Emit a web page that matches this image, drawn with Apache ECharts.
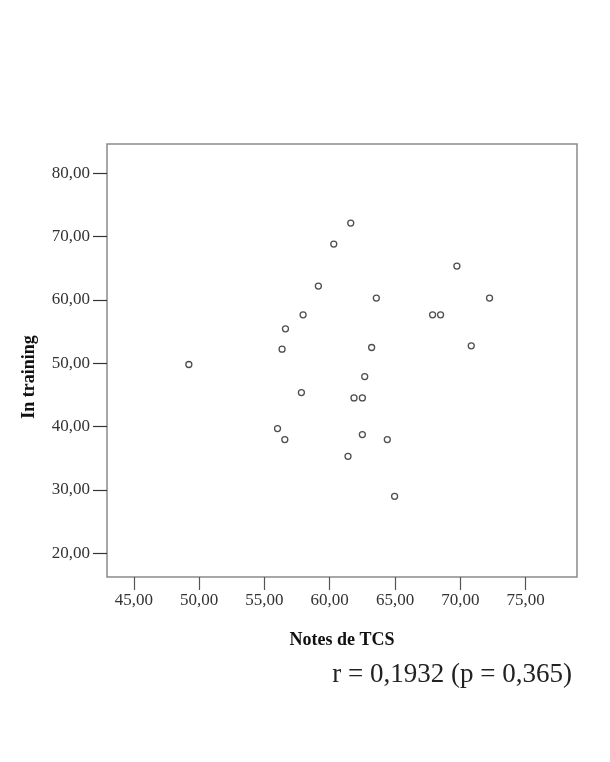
<!DOCTYPE html>
<html>
<head>
<meta charset="utf-8">
<script src="https://cdn.jsdelivr.net/npm/echarts@6/dist/echarts.min.js"></script>
<style>
    html, body { margin: 0; padding: 0; background: #fff; }
    #chart { width: 610px; height: 762px; }
</style>
</head>
<body>
<div id="chart"></div>
<script>
// Notes de TCS (x) / In training (y)
const tcsNotes = [49.21, 61.61, 60.31, 69.74, 59.13, 63.57, 72.24, 57.96, 67.88, 68.49, 56.61, 56.35,
    63.21, 70.84, 62.68, 57.83, 61.86, 62.50, 56.00, 56.56, 62.50, 64.41, 61.40, 64.97]
const inTraining = [49.81, 72.15, 68.83, 65.35, 62.19, 60.30, 60.30, 57.66, 57.66, 57.66, 55.45, 52.23,
    52.50, 52.76, 47.91, 45.38, 44.54, 44.54, 39.69, 37.96, 38.75, 37.96, 35.32, 29.00]

const xTicks = [45, 50, 55, 60, 65, 70, 75]
const yTicks = [20, 30, 40, 50, 60, 70, 80]

const fmt = v => v.toFixed(2).replace('.', ',')
const serif = '"Liberation Serif", "DejaVu Serif", serif'

onload = () => {
    let myChart = echarts.init(document.getElementById('chart'))
    let data = []
    tcsNotes.forEach((x, i) => {
        data.push([x, inTraining[i]])
    })

    let option = {
        backgroundColor: '#fff',
        animation: false,
        grid: {
            left: 107,
            top: 144,
            width: 470,
            height: 433,
            show: true,
            borderColor: '#8a8a8a',
            borderWidth: 1.5,
            containLabel: false
        },
        xAxis: {
            type: 'value',
            min: 42.94,
            max: 78.94,
            splitLine: { show: false },
            axisLine: { show: false },
            axisTick: {
                show: true,
                customValues: xTicks,
                length: 13,
                lineStyle: { color: '#555', width: 1.2 }
            },
            axisLabel: {
                customValues: xTicks,
                formatter: fmt,
                margin: 15,
                fontFamily: serif,
                fontSize: 17,
                color: '#333'
            },
            name: 'Notes de TCS',
            nameLocation: 'middle',
            nameGap: 54,
            nameTextStyle: {
                fontFamily: serif,
                fontSize: 18,
                fontWeight: 'bold',
                color: '#111'
            }
        },
        yAxis: {
            type: 'value',
            min: 16.26,
            max: 84.63,
            splitLine: { show: false },
            axisLine: { show: false },
            axisTick: {
                show: true,
                customValues: yTicks,
                length: 14,
                lineStyle: { color: '#333', width: 1.2 }
            },
            axisLabel: {
                customValues: yTicks,
                formatter: fmt,
                margin: 17,
                fontFamily: serif,
                fontSize: 17,
                color: '#333'
            }
        },
        graphic: [
            {
                type: 'text',
                x: 29,
                y: 377,
                rotation: Math.PI / 2,
                style: {
                    text: 'In training',
                    font: 'bold 18px ' + serif,
                    fill: '#111',
                    align: 'center',
                    verticalAlign: 'middle'
                }
            },
            {
                type: 'text',
                x: 572,
                y: 675,
                style: {
                    text: 'r = 0,1932 (p = 0,365)',
                    font: '27px ' + serif,
                    fill: '#222',
                    align: 'right',
                    verticalAlign: 'middle'
                }
            }
        ],
        series: [
            {
                type: 'scatter',
                data: data,
                symbol: 'circle',
                symbolSize: 6,
                itemStyle: {
                    color: '#fff',
                    borderColor: '#222',
                    borderWidth: 1.3
                }
            }
        ]
    }

    option && myChart.setOption(option)
}
</script>
</body>
</html>
